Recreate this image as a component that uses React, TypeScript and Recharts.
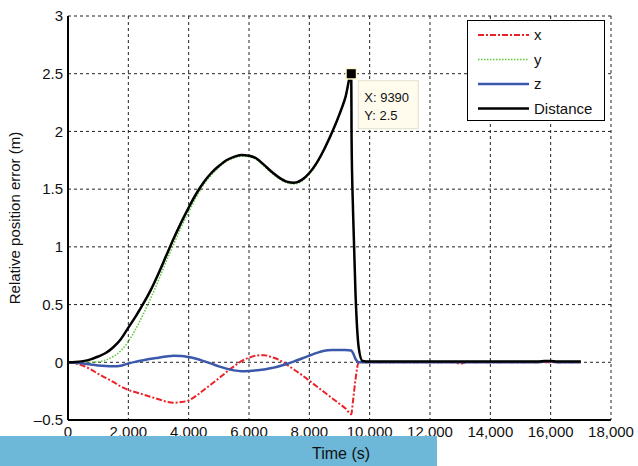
import React from "react";
import {
  LineChart,
  Line,
  XAxis,
  YAxis,
  CartesianGrid,
  ReferenceDot,
} from "recharts";

// time (s)
const times = [
  0, 250, 500, 750, 1000, 1250, 1500, 1750, 2000, 2250, 2500, 2750, 3000,
  3250, 3500, 3750, 4000, 4250, 4500, 4750, 5000, 5250, 5500, 5750, 6000,
  6250, 6500, 6750, 7000, 7250, 7500, 7750, 8000, 8250, 8500, 8750, 9000,
  9200, 9390, 9400, 9450, 9530, 9640, 9760,
  10000, 11000, 12000, 12800, 13000, 13200, 14000, 15000, 15600, 15800, 16000,
  16200, 17000,
];

const xErr = [
  0, -0.01, -0.03, -0.06, -0.1, -0.135, -0.17, -0.21, -0.24, -0.26, -0.28,
  -0.3, -0.32, -0.34, -0.35, -0.345, -0.33, -0.29, -0.24, -0.19, -0.14,
  -0.085, -0.035, 0.01, 0.04, 0.058, 0.062, 0.045, 0.02, -0.02, -0.065, -0.11,
  -0.16, -0.21, -0.26, -0.31, -0.36,
  -0.4, -0.45, -0.44, -0.33, -0.15, 0, 0,
  0, 0, 0, 0, -0.012, 0, 0, 0, 0, 0, 0, 0, 0,
];

const yErr = [
  0, 0, 0, 0.001, 0.004, 0.02, 0.05, 0.1, 0.18, 0.29, 0.42, 0.56, 0.71, 0.87,
  1.02, 1.17, 1.3, 1.43, 1.54, 1.62, 1.69, 1.74, 1.77, 1.785, 1.78, 1.755,
  1.7, 1.64, 1.59, 1.555, 1.545, 1.57, 1.63, 1.72, 1.84, 1.98, 2.14,
  2.29, 2.48, 1.95, 1.3, 0.6, 0.12, 0.012,
  0.006, 0.006, 0.006, 0.006, 0.006, 0.006, 0.006, 0.006, 0.006, 0.012, 0.012,
  0.006, 0.006,
];

const zErr = [
  0, -0.003, -0.01, -0.02, -0.028, -0.033, -0.035, -0.03, -0.01, 0.005, 0.018,
  0.03, 0.04, 0.05, 0.057, 0.055, 0.045, 0.03, 0.01, -0.012, -0.035, -0.055,
  -0.07, -0.077, -0.075, -0.07, -0.063, -0.05, -0.035, -0.015, 0.008, 0.033,
  0.058, 0.082, 0.1, 0.106, 0.107,
  0.107, 0.103, 0.1, 0.08, 0.03, 0, 0,
  0, 0, 0, 0, 0, 0, 0, 0, 0, 0.008, 0.008, 0, 0,
];

const distance = [
  0, 0.002, 0.01, 0.025, 0.05, 0.08, 0.13, 0.2, 0.3, 0.4, 0.51, 0.63, 0.77,
  0.92, 1.07, 1.21, 1.34, 1.46, 1.56, 1.64, 1.7, 1.75, 1.78, 1.795, 1.79,
  1.765, 1.71, 1.65, 1.6, 1.565, 1.555, 1.58, 1.64, 1.73, 1.85, 1.99, 2.15,
  2.3, 2.5, 1.95, 1.3, 0.6, 0.12, 0.012,
  0.006, 0.006, 0.006, 0.006, 0.006, 0.006, 0.006, 0.006, 0.006, 0.012, 0.012,
  0.006, 0.006,
];

const xTicks = [0, 2000, 4000, 6000, 8000, 10000, 12000, 14000, 16000, 18000];
const yTicks = [-0.5, 0, 0.5, 1, 1.5, 2, 2.5, 3];

const tipPoint = { t: 9390, v: 2.5 };

const series = [
  { key: "x", name: "x", color: "#ec2227", width: 2, dash: "6 2 2 2" },
  { key: "y", name: "y", color: "#5cc83c", width: 1.5, dash: "1.5 1.5" },
  { key: "z", name: "z", color: "#3c58aa", width: 2.5, dash: undefined },
  { key: "d", name: "Distance", color: "#000000", width: 2.5, dash: undefined },
];

const data = times.map((t, i) => ({
  t,
  x: xErr[i],
  y: yErr[i],
  z: zErr[i],
  d: distance[i],
}));

const font = "'Liberation Sans', Arial, sans-serif";
const tickStyle = { fontSize: 15, fill: "#111", fontFamily: font };

function fmtX(v: number) {
  return v.toLocaleString("en-US");
}

function fmtY(v: number) {
  return v < 0 ? "\u2013" + Math.abs(v) : String(v);
}

// MATLAB-style data tip
function DataTip(props: any) {
  const { cx, cy } = props;
  return (
    <g>
      <rect x={cx + 7} y={cy + 7} width={60} height={48} fill="#fffcee" stroke="#e4e0cc" strokeWidth={1} />
      <text x={cx + 13} y={cy + 28} fontSize={13} fontFamily={font} fill="#111">
        X: {tipPoint.t}
      </text>
      <text x={cx + 13} y={cy + 46} fontSize={13} fontFamily={font} fill="#111">
        Y: {tipPoint.v}
      </text>
      <rect x={cx - 6} y={cy - 6} width={12} height={12} fill="#fff8cc" />
      <rect x={cx - 4.5} y={cy - 4.5} width={9} height={9} fill="#000" />
    </g>
  );
}

function LegendBox() {
  return (
    <div
      style={{
        position: "absolute",
        left: 467,
        top: 20,
        width: 136,
        height: 99,
        border: "1.5px solid #000",
        background: "#fff",
      }}
    >
      <svg width={136} height={99} style={{ display: "block" }}>
        {series.map((s, i) => {
          const y = 14 + i * 24.5;
          return (
            <g key={s.key}>
              <line
                x1={10}
                x2={61}
                y1={y}
                y2={y}
                stroke={s.color}
                strokeWidth={s.width}
                strokeDasharray={s.dash}
              />
              <text x={66} y={y + 5} fontSize={15} fontFamily={font} fill="#111">
                {s.name}
              </text>
            </g>
          );
        })}
      </svg>
    </div>
  );
}

export default function App() {
  return (
    <div style={{ position: "absolute", left: 0, top: 0, width: 638, height: 466, background: "#fff" }}>
      <LineChart
        width={638}
        height={466}
        data={data}
        margin={{ top: 16, right: 27, left: 0, bottom: 0 }}
      >
        <CartesianGrid stroke="#222" strokeDasharray="3 3" strokeWidth={1} />
        <XAxis
          dataKey="t"
          type="number"
          domain={[0, 18000]}
          ticks={xTicks}
          tickFormatter={fmtX}
          tick={tickStyle}
          tickLine={false}
          tickSize={6}
          tickMargin={0}
          height={46}
          axisLine={{ stroke: "#000", strokeWidth: 2 }}
          interval={0}
        />
        <XAxis
          xAxisId="top"
          orientation="top"
          type="number"
          domain={[0, 18000]}
          tick={false}
          tickLine={false}
          height={0}
          axisLine={{ stroke: "#000", strokeWidth: 1.5 }}
        />
        <YAxis
          type="number"
          domain={[-0.5, 3]}
          ticks={yTicks}
          tickFormatter={fmtY}
          tick={tickStyle}
          tickLine={false}
          tickSize={5}
          tickMargin={0}
          width={68}
          axisLine={{ stroke: "#000", strokeWidth: 2 }}
          interval={0}
          label={{
            value: "Relative position error (m)",
            angle: -90,
            position: "insideLeft",
            offset: 15,
            style: { textAnchor: "middle", fontSize: 15, fontFamily: font, fill: "#111" },
          }}
        />
        <YAxis
          yAxisId="right"
          orientation="right"
          type="number"
          domain={[-0.5, 3]}
          tick={false}
          tickLine={false}
          width={0}
          axisLine={{ stroke: "#000", strokeWidth: 1.5 }}
        />
        {series.map((s) => (
          <Line
            key={s.key}
            dataKey={s.key}
            name={s.name}
            type="monotone"
            stroke={s.color}
            strokeWidth={s.width}
            strokeDasharray={s.dash}
            dot={false}
            isAnimationActive={false}
          />
        ))}
        <ReferenceDot x={tipPoint.t} y={tipPoint.v} shape={DataTip} />
      </LineChart>
      <LegendBox />
      <div
        style={{
          position: "absolute",
          left: 0,
          top: 436,
          width: 437,
          height: 30,
          background: "#6db8d8",
        }}
      />
      <div
        style={{
          position: "absolute",
          left: 312,
          top: 445,
          fontFamily: font,
          fontSize: 16,
          color: "#111",
          whiteSpace: "nowrap",
        }}
      >
        Time (s)
      </div>
    </div>
  );
}
